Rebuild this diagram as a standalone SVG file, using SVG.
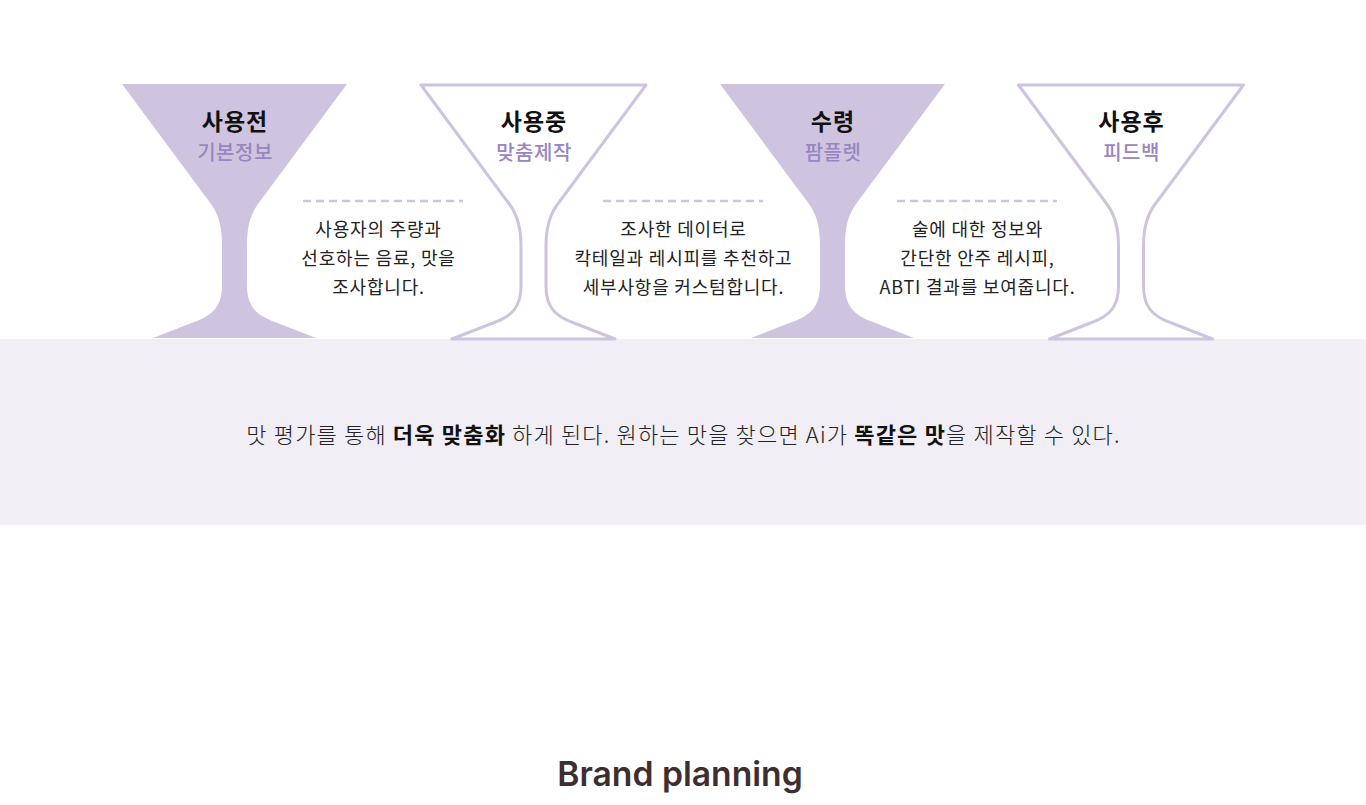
<svg xmlns="http://www.w3.org/2000/svg" width="1366" height="805" viewBox="0 0 1366 805">
<defs>
<style>
.kr{font-family:"Noto Sans CJK KR","Noto Sans",sans-serif;}
.ttl{font-size:23px;font-weight:700;fill:#111;text-anchor:middle;letter-spacing:1px;}
.sub{font-size:20px;font-weight:500;fill:#9985c1;text-anchor:middle;letter-spacing:0.5px;}
.desc{font-size:18px;font-weight:400;fill:#222;text-anchor:middle;letter-spacing:0.8px;}
.band{font-size:22px;font-weight:300;fill:#222;letter-spacing:1.17px;}
.b{font-weight:700;fill:#111;}
.fill{fill:#cfc4e0;}
.line{fill:none;stroke:#cfc4e0;stroke-width:3;stroke-linejoin:round;}
.dash{stroke:#cfc4e0;stroke-width:2.5;stroke-dasharray:8 5;}
</style>
<path id="glass" d="M -112.5 0 L 112.5 0 L 23.5 120 C 15.5 131 12.5 144 12.5 161 L 12.5 201 C 12.5 221 20.5 231 40.5 238 L 81.5 254 L -81.5 254 L -40.5 238 C -20.5 231 -12.5 221 -12.5 201 L -12.5 161 C -12.5 144 -15.5 131 -23.5 120 Z"/>
</defs>
<rect width="1366" height="805" fill="#fff"/>
<rect x="0" y="339" width="1366" height="186" fill="#f1eef5"/>
<g id="node-before">
<use href="#glass" class="fill" transform="translate(234.5,84)"/>
<text class="kr ttl" x="235" y="130">사용전</text>
<text class="kr sub" x="235" y="160">기본정보</text>
</g>
<g id="node-during">
<use href="#glass" class="line" transform="translate(533.5,85)"/>
<text class="kr ttl" x="534" y="130">사용중</text>
<text class="kr sub" x="534" y="160">맞춤제작</text>
</g>
<g id="node-receive">
<use href="#glass" class="fill" transform="translate(832.5,84)"/>
<text class="kr ttl" x="833" y="130">수령</text>
<text class="kr sub" x="833" y="160">팜플렛</text>
</g>
<g id="node-after">
<use href="#glass" class="line" transform="translate(1131,85)"/>
<text class="kr ttl" x="1131.5" y="130">사용후</text>
<text class="kr sub" x="1131.5" y="160">피드백</text>
</g>
<g id="connectors">
<line class="dash" x1="303" y1="201" x2="463" y2="201"/>
<line class="dash" x1="603" y1="201" x2="763" y2="201"/>
<line class="dash" x1="897" y1="201" x2="1057" y2="201"/>
</g>
<g id="desc-1">
<text class="kr desc" x="378.5" y="236">사용자의 주량과</text>
<text class="kr desc" x="378.5" y="265">선호하는 음료, 맛을</text>
<text class="kr desc" x="378.5" y="294">조사합니다.</text>
</g>
<g id="desc-2">
<text class="kr desc" x="683.5" y="236">조사한 데이터로</text>
<text class="kr desc" x="683.5" y="265">칵테일과 레시피를 추천하고</text>
<text class="kr desc" x="683.5" y="294">세부사항을 커스텀합니다.</text>
</g>
<g id="desc-3">
<text class="kr desc" x="977.5" y="236">술에 대한 정보와</text>
<text class="kr desc" x="977.5" y="265">간단한 안주 레시피,</text>
<text class="kr desc" x="977.5" y="294">ABTI 결과를 보여줍니다.</text>
</g>
<g id="band-text">
<text class="kr band" x="683.5" y="443" text-anchor="middle">맛 평가를 통해 <tspan class="b">더욱 맞춤화</tspan> 하게 된다. 원하는 맛을 찾으면 Ai가 <tspan class="b">똑같은 맛</tspan>을 제작할 수 있다.</text>
</g>
<g id="title">
<text x="680" y="786" text-anchor="middle" style="font-family:Inter,'Noto Sans',sans-serif;font-size:33.7px;font-weight:600;fill:#3d2f30;">Brand planning</text>
</g>
</svg>
